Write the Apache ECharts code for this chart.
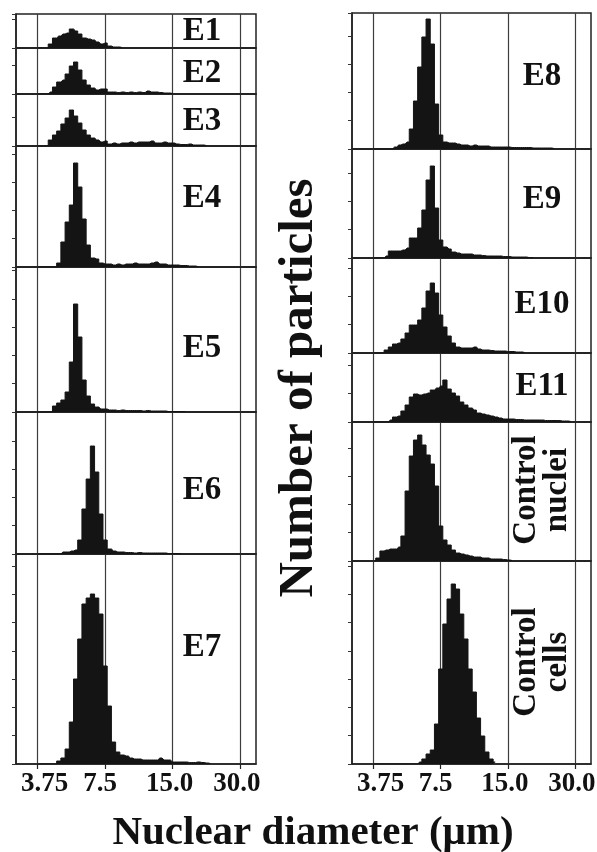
<!DOCTYPE html>
<html>
<head>
<meta charset="utf-8">
<script src="https://cdn.jsdelivr.net/npm/echarts@6/dist/echarts.min.js"></script>
<style>html,body{margin:0;padding:0;background:#fff}#chart{width:597px;height:852px}</style>
</head>
<body>
<div id="chart"></div>
<script>
// Bin centres (µm), 1/16-octave bins starting at 3.75
const binCenters = [3.750, 3.916, 4.089, 4.271, 4.460, 4.657, 4.863, 5.079, 5.303, 5.538, 5.783, 6.039, 6.307, 6.586, 6.878, 7.182, 7.500, 7.832, 8.179, 8.541, 8.919, 9.314, 9.726, 10.157, 10.607, 11.076, 11.567, 12.079, 12.614, 13.172, 13.755, 14.364, 15.000, 15.664, 16.358, 17.082, 17.838, 18.628, 19.452, 20.314, 21.213, 22.152, 23.134, 24.158, 25.227, 26.344, 27.510, 28.728, 30.000, 31.328, 32.715, 34.164];
const xTickValues = [3.75, 7.5, 15.0, 30.0];
const xTickLabels = ['3.75', '7.5', '15.0', '30.0'];

// Particle counts per bin (arbitrary units)
const e1 = [0,0,0,4,10,12,14,15,19,17,14,10,9,8,6,4,5,2,1,1,0.5];
const e2 = [0,0,0,2,7,12,14,20,28,32,24,14,9,6,4,5,5,2,2,1.5,2,1.5,2,1.5,2,1.5,3,2,2,1.5,1,1,0.5];
const e3 = [0,0,0,6,11,15,22,28,36,30,23,16,11,8,6,4,5,2,3,2,3,3,4,3,4,4,4,5,3,3,4,3,3,2,1.5,1.5,2,1,1,1,0.5];
const e4 = [0,0,0,0,0,4,25,45,62,104,80,48,22,9,8,4,3,3,2,3,2,3,3,4,3,3,3,4,5,3,3,2,2,2,1.5,1.5,1,1,0.5];
const e5 = [0,0,0,0,6,9,12,20,50,108,75,32,16,8,5,3,3,2,2,1.5,2,1.5,1.5,1.5,1.5,1,1.5,1,1,1,1,0.5,0.5,0.5,0.5,0.5];
const e6 = [0,0,0,0,0,0,2,2,3,4,14,45,75,108,82,40,14,5,3,2,2,1.5,1.5,1,1.5,1,1,1,1,1,1,0.5,0.5,0.5,0.5];
const e7 = [0,0,0,0,0,3,6,15,42,85,125,160,166,170,166,150,98,58,22,12,9,8,6,5,5,4,4,4,4,6,4,4,2,2,2,2,1.5,1.5,2,1.5,1,0.5];
const e8 = [0,0,0,0,0,2,4,5,7,20,48,82,112,130,105,45,14,7,6,6,5,4,4,3,4,3,3,3,2,2,2,2,2,1.5,1.5,1.5,1.5,1.5,1,1,1,1,1,0.5];
const e9 = [0,0,0,2,7,7,7,8,10,20,20,30,48,78,92,50,18,11,9,6,5,4,4,4,3,3,2.5,2,2,2,2,1.5,1.5,1,1,1,1,0.5,0.5];
const e10 = [0,0,0,3,6,9,10,14,20,28,28,33,45,62,70,60,38,26,17,10,6,5,5,5,6,4,3,3,2.5,2,2,2,1.5,1.5,1,1,0.5];
const e11 = [0,0,0,0,2,5,6,11,17,25,28,27,28,29,32,34,36,42,33,29,26,20,17,14,12,9,8,7,6,5,4,3,3,3,2.5,2.5,2,2,2,2,2,1.5,1.5,1.5,1.5,1,1,0.5];
const controlNuclei = [0,3,10,11,12,12,14,25,70,105,121,126,116,106,97,75,35,21,16,11,8,7,6,5,4,4,3,3,2,2,2,1.5,1,0.5];
const controlCells = [0,0,0,0,0,0,0,0,0,0,0,2,5,10,14,40,95,140,165,180,175,150,125,95,72,46,28,12,5,2];

// Layout (pixels)
const panels = [
  {name:'E1', data:e1, col:0, top:14, bottom:48, ly:31},
  {name:'E2', data:e2, col:0, top:48, bottom:94, ly:73},
  {name:'E3', data:e3, col:0, top:94, bottom:146, ly:121},
  {name:'E4', data:e4, col:0, top:146, bottom:267, ly:198},
  {name:'E5', data:e5, col:0, top:267, bottom:412, ly:348},
  {name:'E6', data:e6, col:0, top:412, bottom:554, ly:490},
  {name:'E7', data:e7, col:0, top:554, bottom:764, ly:647},
  {name:'E8', data:e8, col:1, top:13, bottom:149, ly:76},
  {name:'E9', data:e9, col:1, top:149, bottom:258, ly:199},
  {name:'E10', data:e10, col:1, top:258, bottom:353, ly:304},
  {name:'E11', data:e11, col:1, top:353, bottom:422, ly:386},
  {name:'Control\nnuclei', data:controlNuclei, col:1, top:422, bottom:561, ly:490, rot:true},
  {name:'Control\ncells', data:controlCells, col:1, top:561, bottom:764, ly:662, rot:true}
];
const cols = [{left:16, width:240, lx:202}, {left:352, width:239, lx:542}];
const labelPad = [[0,0,0,14],[0,10,0,0],[0,6,0,0],[0,6,0,0]];
const pxPerTick = 28.3;
const serif = '"Liberation Serif", "Times New Roman", serif';
const ink = '#141414';

const rich = {};
labelPad.forEach((pd, k) => { rich['l' + k] = {padding:pd, fontFamily:serif, fontWeight:'bold', fontSize:27, color:'#111'}; });

const grids = [], xAxes = [], yAxes = [], series = [], graphics = [];
panels.forEach((p, i) => {
  const c = cols[p.col];
  const h = p.bottom - p.top;
  const isBottom = p.bottom === 764;
  grids.push({left:c.left, top:p.top, width:c.width, height:h, show:true,
    borderColor:'#222', borderWidth:1.5, backgroundColor:'transparent', containLabel:false, outerBoundsMode:'none'});
  xAxes.push({type:'log', logBase:2, min:3.0, max:35.4, gridIndex:i,
    axisLine:{show:true, lineStyle:{color:'#222', width:1.5}},
    axisTick:{show:isBottom, length:5, customValues:xTickValues, lineStyle:{color:'#222', width:1.2}},
    axisLabel:{show:isBottom, customValues:xTickValues, margin:7,
      formatter: v => {
        const k = xTickValues.findIndex(t => Math.abs(t - v) < 1e-6);
        return k < 0 ? '' : '{l' + k + '|' + xTickLabels[k] + '}';
      },
      rich:rich, fontFamily:serif, fontWeight:'bold', fontSize:27, color:'#111'},
    splitLine:{show:true, lineStyle:{color:'#3c3c3c', width:1.2}},
    minorTick:{show:false}, minorSplitLine:{show:false}});
  yAxes.push({type:'value', min:0, max:h, interval:pxPerTick, gridIndex:i,
    axisLine:{show:true, lineStyle:{color:'#222', width:1.5}},
    axisTick:{show:true, length:4, inside:false, lineStyle:{color:'#333', width:1}},
    axisLabel:{show:false}, splitLine:{show:false}});
  series.push({type:'line', xAxisIndex:i, yAxisIndex:i, step:'middle', symbol:'none',
    silent:true, animation:false,
    data: p.data.map((v, j) => [binCenters[j], v]),
    lineStyle:{color:ink, width:1}, areaStyle:{color:ink, opacity:1}});
  graphics.push({type:'text', x:c.lx, y:p.ly, rotation: p.rot ? Math.PI/2 : 0,
    style:{text:p.name, font:'bold 33px ' + serif, fill:'#111', align:'center', verticalAlign:'middle', lineHeight:31}});
});
graphics.push({type:'text', x:299, y:388, rotation:Math.PI/2,
  style:{text:'Number of particles', font:'bold 49px ' + serif, fill:'#111', align:'center', verticalAlign:'middle'}});
graphics.push({type:'text', x:313, y:833,
  style:{text:'Nuclear diameter (\u03bcm)', font:'bold 41px ' + serif, fill:'#111', align:'center', verticalAlign:'middle'}});

const chart = echarts.init(document.getElementById('chart'), null, {renderer:'canvas'});
chart.setOption({animation:false, backgroundColor:'#fff', grid:grids, xAxis:xAxes, yAxis:yAxes, series:series, graphic:graphics});
</script>
</body>
</html>
